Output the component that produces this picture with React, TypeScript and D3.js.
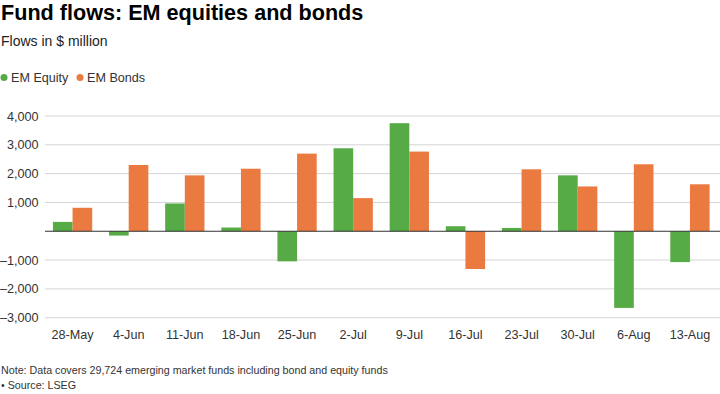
import React from "react";
import * as d3 from "d3";

const categories = ["28-May", "4-Jun", "11-Jun", "18-Jun", "25-Jun", "2-Jul", "9-Jul", "16-Jul", "23-Jul", "30-Jul", "6-Aug", "13-Aug"];
const equity = [325, -150, 965, 130, -1045, 2880, 3750, 175, 115, 1940, -2660, -1070];
const bonds = [815, 2300, 1940, 2170, 2695, 1150, 2765, -1310, 2150, 1555, 2325, 1630];
const yTicks = [-3000, -2000, -1000, 0, 1000, 2000, 3000, 4000];
const seriesNames = ["EM Equity", "EM Bonds"];
const colors = ["#56ab46", "#eb7a41"];

const W = 720;
const H = 394;
const FONT = "'Liberation Sans', Arial, Helvetica, sans-serif";

export default function App() {
  const x = d3.scaleBand<string>().domain(categories).range([44.5, 718]).paddingInner(0.3).paddingOuter(0.15);
  const x1 = d3.scaleBand<number>().domain([0, 1]).range([0, x.bandwidth()]);
  const y = d3.scaleLinear().domain([-3000, 4000]).range([317.7, 116]);
  const fmt = (v: number) => (v < 0 ? "\u2013" : "") + d3.format(",")(Math.abs(v));
  const series = [equity, bonds];

  return (
    <svg width={W} height={H} style={{ position: "absolute", left: 0, top: 0, background: "#fff" }} fontFamily={FONT}>
      <text x={1} y={20} fontSize={21.6} fontWeight="bold" fill="#000">Fund flows: EM equities and bonds</text>
      <text x={1} y={46} fontSize={14} fill="#222">Flows in $ million</text>
      {seriesNames.map((n, i) => {
        const ox = i === 0 ? 0 : 76;
        return (
          <g key={n}>
            <circle cx={4 + ox} cy={77.5} r={3.5} fill={colors[i]} />
            <text x={11 + ox} y={81.5} fontSize={12.6} fill="#333">{n}</text>
          </g>
        );
      })}
      {yTicks.map((t) => (
        <g key={t}>
          {t !== 0 && <line x1={45} x2={720} y1={y(t)} y2={y(t)} stroke="#d4d4d4" strokeWidth={1} />}
          <text x={38.5} y={y(t) + 4.5} fontSize={12.6} textAnchor="end" fill="#333">{t === 0 ? "" : fmt(t)}</text>
        </g>
      ))}
      {categories.map((c, i) => (
        <g key={c} transform={`translate(${x(c)},0)`}>
          {series.map((s, j) => {
            const v = s[i];
            return (
              <rect key={j} x={x1(j)} width={x1.bandwidth()} y={y(Math.max(0, v))} height={Math.abs(y(v) - y(0))} fill={colors[j]} />
            );
          })}
          <text x={x.bandwidth() / 2} y={339} fontSize={12.6} textAnchor="middle" fill="#333">{c}</text>
        </g>
      ))}
      <line x1={45} x2={720} y1={y(0)} y2={y(0)} stroke="#333" strokeWidth={1} />
      <text x={1} y={374} fontSize={10.7} fill="#333">Note: Data covers 29,724 emerging market funds including bond and equity funds</text>
      <text x={1} y={389} fontSize={10.7} fill="#333">• Source: LSEG</text>
    </svg>
  );
}
